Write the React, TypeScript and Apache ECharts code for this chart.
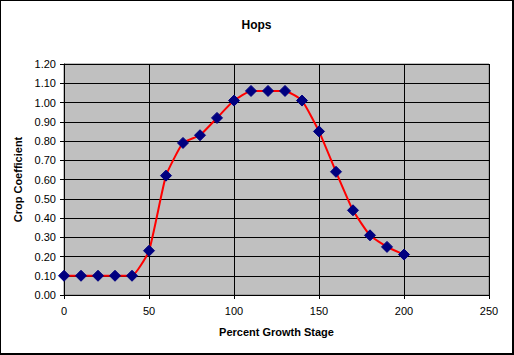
import React, { useEffect, useRef } from "react";
import * as echarts from "echarts";

const xValues = [0, 10, 20, 30, 40, 50, 60, 70, 80, 90, 100, 110, 120, 130, 140, 150, 160, 170, 180, 190, 200];
const cropCoefficient = [0.1, 0.1, 0.1, 0.1, 0.1, 0.23, 0.62, 0.79, 0.83, 0.92, 1.01, 1.06, 1.06, 1.06, 1.01, 0.85, 0.64, 0.44, 0.31, 0.25, 0.21];
const titleText = "Hops";
const xAxisName = "Percent Growth Stage";
const yAxisName = "Crop Coefficient";

const FONT = "'Liberation Sans', Arial, sans-serif";

export default function App() {
  const ref = useRef<HTMLDivElement>(null);
  useEffect(() => {
    if (!ref.current) return;
    const chart = echarts.init(ref.current, null, { renderer: "svg" });
    chart.setOption({
      animation: false,
      backgroundColor: "#ffffff",
      title: {
        text: titleText,
        left: "center",
        top: 13,
        textStyle: { fontFamily: FONT, fontSize: 12, fontWeight: "bold", color: "#000" },
      },
      grid: { left: 63, right: 23, top: 63, bottom: 58, show: true, backgroundColor: "#c0c0c0", borderColor: "#808080", borderWidth: 1 },
      xAxis: {
        type: "value",
        min: 0,
        max: 250,
        interval: 50,
        name: xAxisName,
        nameLocation: "middle",
        nameGap: 31,
        nameTextStyle: { fontFamily: FONT, fontSize: 11, fontWeight: "bold", color: "#000" },
        axisLine: { show: true, onZero: false, lineStyle: { color: "#000", width: 1 } },
        axisTick: { show: true, length: 4, lineStyle: { color: "#000" } },
        axisLabel: { fontFamily: FONT, fontSize: 11, color: "#000", margin: 10 },
        splitLine: { show: true, lineStyle: { color: "#000", width: 1 } },
      },
      yAxis: {
        type: "value",
        min: 0,
        max: 1.2,
        interval: 0.1,
        name: yAxisName,
        nameLocation: "middle",
        nameGap: 35,
        nameTextStyle: { fontFamily: FONT, fontSize: 11, fontWeight: "bold", color: "#000" },
        axisLine: { show: true, lineStyle: { color: "#000", width: 1 } },
        axisTick: { show: true, length: 4, lineStyle: { color: "#000" } },
        axisLabel: { fontFamily: FONT, fontSize: 11, color: "#000", margin: 8, formatter: (v: number) => v.toFixed(2) },
        splitLine: { show: true, lineStyle: { color: "#000", width: 1 } },
      },
      series: [
        {
          type: "line",
          data: xValues.map((x, i) => [x, cropCoefficient[i]]),
          smooth: 0.15,
          lineStyle: { color: "#ff0000", width: 2 },
          symbol: "diamond",
          symbolSize: 11,
          itemStyle: { color: "#000080", borderColor: "#000080" },
        },
      ],
    });
    return () => chart.dispose();
  }, []);
  return (
    <div
      style={{
        position: "fixed",
        left: 0,
        top: 0,
        width: 514,
        height: 355,
        boxSizing: "border-box",
        border: "1px solid #000",
        borderRightWidth: 2,
        borderBottomWidth: 2,
        background: "#fff",
      }}
    >
      <div ref={ref} style={{ width: 511, height: 352 }} />
    </div>
  );
}
